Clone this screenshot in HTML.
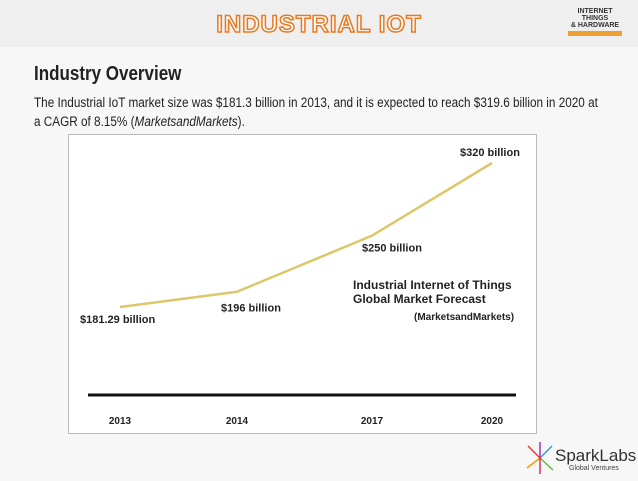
<!DOCTYPE html>
<html><head><meta charset="utf-8"><style>
body{margin:0;width:638px;height:479px;background:#f7f7f7;font-family:"Liberation Sans",sans-serif;position:relative;overflow:hidden}
.hdr{position:absolute;left:0;top:0;width:638px;height:47px;background:#efefef}
.title{position:absolute;left:0;width:638px;top:11px;text-align:center;font-weight:bold;font-size:24px;color:#fff;-webkit-text-stroke:1.5px #e8791e;letter-spacing:1px}
h1{position:absolute;left:34px;top:63px;margin:0;font-size:20px;font-weight:bold;color:#222;transform:scaleX(0.85);transform-origin:left}
.desc{position:absolute;left:34px;top:93px;width:652px;font-size:13.5px;line-height:19px;color:#222;transform:scaleX(0.87);transform-origin:left}
.chart{position:absolute;left:68px;top:134px;width:469px;height:300px;background:#fff;border:1px solid #bbb;box-sizing:border-box}
</style></head><body>
<div class="hdr"></div>
<div class="title">INDUSTRIAL IOT</div>
<div style="position:absolute;left:568px;top:8px;width:54px;font-size:7px;font-weight:bold;line-height:7px;text-align:center;color:#333">INTERNET<br>THINGS<br>&amp; HARDWARE<div style="background:#f0a030;height:5px;margin-top:2px"></div></div>
<h1>Industry Overview</h1>
<div class="desc">The Industrial IoT market size was $181.3 billion in 2013, and it is expected to reach $319.6 billion in 2020 at a CAGR of 8.15% (<i>MarketsandMarkets</i>).</div>
<div class="chart"></div>
<svg id="svg" width="638" height="479" style="position:absolute;left:0;top:0"></svg>
<div style="position:absolute;left:525px;top:440px;width:110px;height:36px">
<svg width="30" height="36"><g stroke-width="1.5"><line x1="15" y1="18" x2="3" y2="6" stroke="#e33"/><line x1="15" y1="18" x2="27" y2="6" stroke="#39c"/><line x1="15" y1="18" x2="2" y2="28" stroke="#f90"/><line x1="15" y1="18" x2="28" y2="30" stroke="#6b3"/><line x1="15" y1="18" x2="15" y2="2" stroke="#93c"/><line x1="15" y1="18" x2="15" y2="34" stroke="#c36"/></g></svg>
<div style="position:absolute;left:30px;top:6px;font-size:17px;color:#333">SparkLabs</div>
<div style="position:absolute;left:44px;top:25px;font-size:7px;color:#444">Global Ventures</div></div>
<script>
const categories=["2013","2014","2017","2020"];
const values=[181.29,196,250,320];
const valueLabels=["$181.29 billion","$196 billion","$250 billion","$320 billion"];
const svg=document.getElementById('svg');const NS='http://www.w3.org/2000/svg';
const xs=[120,237,372,492];
function x(i){return xs[i];}
function y(v){return 307-(v-181.29)*(144/138.71);}
function mk(t,a){const e=document.createElementNS(NS,t);for(const k in a)e.setAttribute(k,a[k]);svg.appendChild(e);return e;}
const base=mk('line',{x1:88,y1:395,x2:516,y2:395,stroke:'#111','stroke-width':3});


const pl=mk('polyline',{points:values.map((v,i)=>x(i)+','+y(v)).join(' '),fill:'none',stroke:'#dcc86a','stroke-width':2.5});


const loff=[[-40,16],[-16,20],[-10,16],[-32,-7]];
categories.forEach((c,i)=>{
 const t=mk('text',{x:x(i),y:424,'text-anchor':'middle','font-size':10,'font-weight':'bold',fill:'#222'});t.textContent=c;
 
 
 const l=mk('text',{x:x(i)+loff[i][0],y:y(values[i])+loff[i][1],'font-size':11,'font-weight':'bold',fill:'#222'});l.textContent=valueLabels[i];
 
 
});
[["Industrial Internet of Things",353,289,12],["Global Market Forecast",353,303,12],["(MarketsandMarkets)",414,320,10]].forEach(a=>{
 const t=mk('text',{x:a[1],y:a[2],'font-size':a[3],'font-weight':'bold',fill:'#222'});t.textContent=a[0];
 
 
});
</script>
</body></html>
